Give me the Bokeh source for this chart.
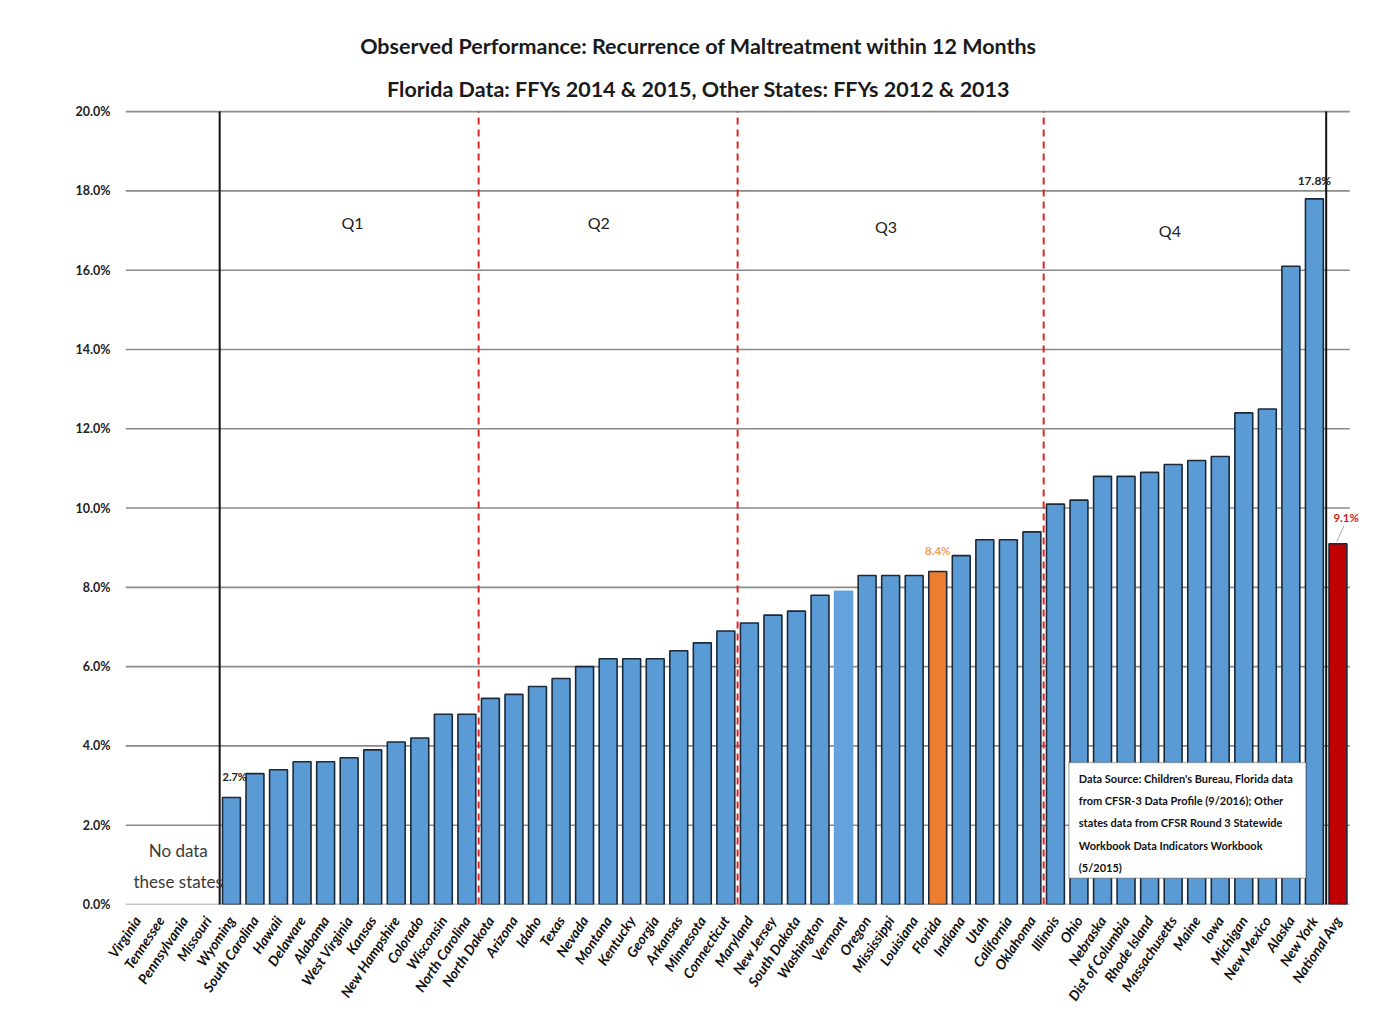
import numpy as np
from bokeh.plotting import figure
from bokeh.models import (Range1d, FixedTicker, PrintfTickFormatter, Label, BoxAnnotation,
                          ColumnDataSource)
from bokeh.embed import file_html
from bokeh.resources import INLINE

states = ["Virginia", "Tennessee", "Pennsylvania", "Missouri", "Wyoming", "South Carolina",
          "Hawaii", "Delaware", "Alabama", "West Virginia", "Kansas", "New Hampshire",
          "Colorado", "Wisconsin", "North Carolina", "North Dakota", "Arizona", "Idaho",
          "Texas", "Nevada", "Montana", "Kentucky", "Georgia", "Arkansas", "Minnesota",
          "Connecticut", "Maryland", "New Jersey", "South Dakota", "Washington", "Vermont",
          "Oregon", "Mississippi", "Louisiana", "Florida", "Indiana", "Utah", "California",
          "Oklahoma", "Illinois", "Ohio", "Nebraska", "Dist of Columbia", "Rhode Island",
          "Massachusetts", "Maine", "Iowa", "Michigan", "New Mexico", "Alaska", "New York",
          "National Avg"]
recurrence_pct = [None, None, None, None, 2.7, 3.3,
                  3.4, 3.6, 3.6, 3.7, 3.9, 4.1,
                  4.2, 4.8, 4.8, 5.2, 5.3, 5.5,
                  5.7, 6.0, 6.2, 6.2, 6.2, 6.4, 6.6,
                  6.9, 7.1, 7.3, 7.4, 7.8, 7.9,
                  8.3, 8.3, 8.3, 8.4, 8.8, 9.2, 9.2,
                  9.4, 10.1, 10.2, 10.8, 10.8, 10.9,
                  11.1, 11.2, 11.3, 12.4, 12.5, 16.1, 17.8,
                  9.1]
y_ticks = [0, 2, 4, 6, 8, 10, 12, 14, 16, 18, 20]
quartile_names = ["Q1", "Q2", "Q3", "Q4"]
no_data_end = 3.5
quartile_splits = [14.5, 25.5, 38.5]
national_split = 50.5

BLUE = "#5b9bd5"
ORANGE = "#ed7d31"
RED = "#c00000"
EDGE = "#1b2a3a"
FONT = "Lato"

n = len(states)
idx = [i for i, v in enumerate(recurrence_pct) if v is not None]
vals = [recurrence_pct[i] for i in idx]
fills, lines = [], []
for i in idx:
    s = states[i]
    if s == "Florida":
        fills.append(ORANGE); lines.append(EDGE)
    elif s == "National Avg":
        fills.append(RED); lines.append(EDGE)
    elif s == "Vermont":
        fills.append("#63a2dc"); lines.append("#63a2dc")
    else:
        fills.append(BLUE); lines.append(EDGE)
src = ColumnDataSource(dict(x=idx, top=vals, fill=fills, line=lines))

p = figure(width=1388, height=1024, output_backend="svg", toolbar_location=None,
           x_range=Range1d(-0.5, n), y_range=Range1d(0, 22.5),
           min_border_left=125, min_border_right=27, min_border_top=12, min_border_bottom=120,
           title=None)
p.outline_line_color = None
p.background_fill_color = "white"
p.border_fill_color = "white"
p.xgrid.grid_line_color = None
p.ygrid.grid_line_color = None

# horizontal gridlines, spanning the categories only
y_top = y_ticks[-1]
p.segment(x0=[-0.5] * len(y_ticks), y0=y_ticks, x1=[n - 0.5] * len(y_ticks), y1=y_ticks,
          line_color="#8a8a8a", line_width=1.6)

p.yaxis.ticker = FixedTicker(ticks=y_ticks)
p.yaxis.formatter = PrintfTickFormatter(format="%.1f%%")
p.yaxis.axis_line_color = None
p.yaxis.major_tick_line_color = None
p.yaxis.minor_tick_line_color = None
p.yaxis.major_label_text_font = FONT
p.yaxis.major_label_text_font_style = "bold"
p.yaxis.major_label_text_font_size = "12.5px"
p.yaxis.major_label_text_color = "#222222"
p.yaxis.major_label_standoff = 9

p.xaxis.ticker = FixedTicker(ticks=list(range(n)))
p.xaxis.major_label_overrides = {i: s for i, s in enumerate(states)}
p.xaxis.major_label_orientation = 0.98
p.xaxis.axis_line_color = None
p.xaxis.major_tick_line_color = None
p.xaxis.minor_tick_line_color = None
p.xaxis.major_label_text_font = FONT
p.xaxis.major_label_text_font_style = "bold italic"
p.xaxis.major_label_text_font_size = "14px"
p.xaxis.major_label_text_color = "#111111"
p.xaxis.major_label_standoff = 7

# bars
p.vbar(x="x", top="top", width=0.76, bottom=0, source=src,
       fill_color="fill", line_color="line", line_width=1.6)

# separator lines
p.segment(x0=[no_data_end, national_split], y0=[-0.3, -0.3],
          x1=[no_data_end, national_split], y1=[y_top, y_top], line_color="#111111", line_width=2)
p.segment(x0=quartile_splits, y0=[-0.3] * 3, x1=quartile_splits, y1=[y_top] * 3,
          line_color="#e02424", line_width=2, line_dash="7 5")

# quartile labels
q_x = [9.14, 19.6, 31.8, 43.86]
q_y = [17.2, 17.2, 17.1, 17.0]
for name, qx, qy in zip(quartile_names, q_x, q_y):
    p.add_layout(Label(x=qx, y=qy, text=name, text_align="center", text_baseline="middle",
                       text_font=FONT, text_font_size="16px", text_color="#222222"))

# value labels
p.add_layout(Label(x=3.62, y=3.23, text="2.7%", text_align="left", text_baseline="middle",
                   text_font=FONT, text_font_style="bold", text_font_size="11px",
                   text_color="#222222"))
p.add_layout(Label(x=50.0, y=18.26, text="17.8%", text_align="center", text_baseline="middle",
                   text_font=FONT, text_font_style="bold", text_font_size="12px",
                   text_color="#222222"))
p.add_layout(Label(x=34.0, y=8.92, text="8.4%", text_align="center", text_baseline="middle",
                   text_font=FONT, text_font_style="bold", text_font_size="11.5px",
                   text_color="#f0a060"))
p.add_layout(Label(x=51.35, y=9.76, text="9.1%", text_align="center", text_baseline="middle",
                   text_font=FONT, text_font_style="bold", text_font_size="11.5px",
                   text_color="#d02020"))
p.segment(x0=[50.95], y0=[9.15], x1=[51.25], y1=[9.55], line_color="#aaaaaa", line_width=1)

# no data label
p.add_layout(Label(x=1.74, y=1.36, text="No data", text_align="center", text_baseline="middle",
                   text_font=FONT, text_font_size="17px", text_color="#3a3a3a"))
p.add_layout(Label(x=1.74, y=0.58, text="these states", text_align="center",
                   text_baseline="middle", text_font=FONT, text_font_size="17px",
                   text_color="#3a3a3a"))

# source box
p.add_layout(BoxAnnotation(left=39.57, right=49.64, bottom=0.66, top=3.58,
                           fill_color="white", fill_alpha=1.0, line_color="#222222",
                           line_width=1.5, level="overlay"))
source_lines = ["Data Source: Children's Bureau, Florida data",
                "from CFSR-3 Data Profile (9/2016); Other",
                "states data from CFSR Round 3 Statewide",
                "Workbook Data Indicators Workbook",
                "(5/2015)"]
for k, line in enumerate(source_lines):
    p.add_layout(Label(x=39.99, y=(904 - (778 + 22.2 * k)) / 39.65, text=line,
                       text_align="left", text_baseline="middle", text_font=FONT,
                       text_font_style="bold", text_font_size="11px",
                       text_color="#111111", level="overlay"))

# titles
p.add_layout(Label(x=23.84, y=21.66,
                   text="Observed Performance: Recurrence of Maltreatment within 12 Months",
                   text_align="center", text_baseline="middle", text_font=FONT,
                   text_font_style="bold", text_font_size="21.5px", text_color="#1a1a1a"))
p.add_layout(Label(x=23.84, y=20.58,
                   text="Florida Data: FFYs 2014 & 2015, Other States: FFYs 2012 & 2013",
                   text_align="center", text_baseline="middle", text_font=FONT,
                   text_font_style="bold", text_font_size="21.5px", text_color="#1a1a1a"))

open("out.html", "w").write(file_html(p, INLINE))
